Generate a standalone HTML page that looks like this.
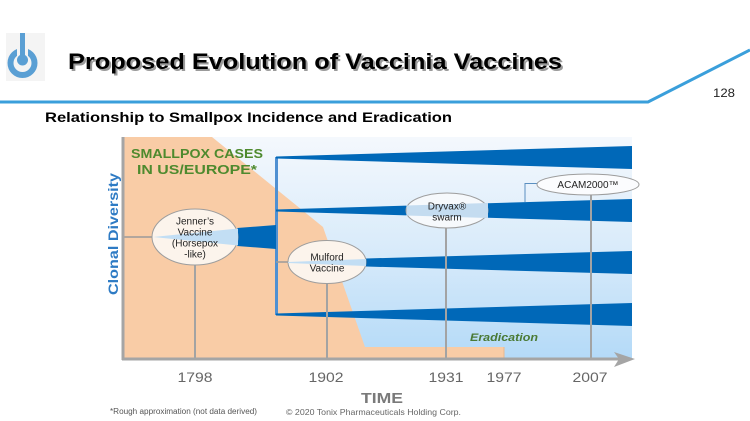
<!DOCTYPE html>
<html><head><meta charset="utf-8"><style>
html,body{margin:0;padding:0;background:#fff;}
svg{display:block;font-family:"Liberation Sans",sans-serif;}
</style></head><body>
<svg width="750" height="421" viewBox="0 0 750 421" xmlns="http://www.w3.org/2000/svg">
<defs>
<linearGradient id="bg" x1="0" y1="0" x2="0" y2="1">
<stop offset="0" stop-color="#f4f8fd"/>
<stop offset="0.5" stop-color="#d9ebfa"/>
<stop offset="1" stop-color="#b4daf8"/>
</linearGradient>
</defs>
<rect width="750" height="421" fill="#fff"/>
<!-- header -->
<rect x="6" y="33" width="39" height="48" fill="#f4f4f4"/>
<circle cx="22.5" cy="63" r="12" fill="none" stroke="#5a9fd4" stroke-width="6"/>
<rect x="17" y="44" width="11" height="12" fill="#f4f4f4"/>
<rect x="20" y="33" width="5" height="27" fill="#5a9fd4"/>
<circle cx="22.5" cy="60" r="5.5" fill="#5a9fd4"/>
<text x="70" y="71" font-size="22" font-weight="bold" fill="#9a9a9a" textLength="494" lengthAdjust="spacingAndGlyphs">Proposed Evolution of Vaccinia Vaccines</text>
<text x="68" y="69" font-size="22" font-weight="bold" fill="#000" textLength="494" lengthAdjust="spacingAndGlyphs">Proposed Evolution of Vaccinia Vaccines</text>
<polyline points="0,102 648,102 750,50" fill="none" stroke="#3a9fdb" stroke-width="3"/>
<text x="713" y="97" font-size="12" fill="#222" textLength="22" lengthAdjust="spacingAndGlyphs">128</text>
<text x="45" y="122" font-size="13.5" font-weight="bold" fill="#000" textLength="407" lengthAdjust="spacingAndGlyphs">Relationship to Smallpox Incidence and Eradication</text>

<!-- chart background -->
<rect x="123" y="137" width="509" height="221" fill="url(#bg)"/>
<polygon points="123,137 212,137 323,227 365,347 504,347 504,358 123,358" fill="#f9cca6"/>
<line x1="504" y1="347" x2="504" y2="358" stroke="#e8b890" stroke-width="1"/>

<!-- trunk -->
<rect x="275" y="157" width="3" height="158" fill="#4f90d2"/>

<!-- wedges -->
<polygon points="276,156.5 632,146 632,169 276,158.5" fill="#0068b8"/>
<polygon points="276,209.5 632,199 632,222 276,211.5" fill="#0068b8"/>
<polygon points="366,258.5 632,251 632,274 366,266.5" fill="#0068b8"/>
<polygon points="276,313.5 632,303 632,326 276,315.5" fill="#0068b8"/>

<!-- Jenner -->
<line x1="123" y1="237" x2="153" y2="237" stroke="#9a9a9a" stroke-width="1.5"/>
<polygon points="237,228 276,225 276,249 237,246" fill="#0068b8"/>
<line x1="195" y1="265" x2="195" y2="358" stroke="#a3a3a3" stroke-width="2"/>
<ellipse cx="195" cy="237" rx="43" ry="28" fill="#fcf4ec" stroke="#9d9d9d" stroke-width="1"/>
<polygon points="153,237 238,228.5 238,245.5" fill="#c2def4"/>
<g font-size="10" fill="#222" text-anchor="middle">
<text x="195" y="224.5">Jenner’s</text>
<text x="195" y="235.5">Vaccine</text>
<text x="195" y="246.5">(Horsepox</text>
<text x="195" y="257.5">-like)</text>
</g>

<!-- Mulford -->
<line x1="276" y1="262" x2="289" y2="262" stroke="#9a9a9a" stroke-width="1.5"/>
<line x1="327" y1="284" x2="327" y2="358" stroke="#a3a3a3" stroke-width="2"/>
<ellipse cx="327" cy="262" rx="39" ry="21.5" fill="#fcf4ec" stroke="#9d9d9d" stroke-width="1"/>
<polygon points="288,262 366,259 366,266 288,263" fill="#c2def4"/>
<g font-size="10" fill="#222" text-anchor="middle">
<text x="327" y="260.5">Mulford</text>
<text x="327" y="271.5">Vaccine</text>
</g>

<!-- Dryvax -->
<line x1="446" y1="228" x2="446" y2="358" stroke="#a3a3a3" stroke-width="2"/>
<ellipse cx="447" cy="210.5" rx="41" ry="17.5" fill="#f6f9fc" stroke="#9d9d9d" stroke-width="1"/>
<polygon points="406.5,205.5 488,203 488,218 406.5,215.5" fill="#c4dcf0"/>
<g font-size="10" fill="#222" text-anchor="middle">
<text x="447" y="209.5">Dryvax®</text>
<text x="447" y="220.5">swarm</text>
</g>

<!-- ACAM2000 -->
<polyline points="525,202 525,183.5 537,183.5" fill="none" stroke="#5a8fc0" stroke-width="1"/>
<line x1="591" y1="195" x2="591" y2="358" stroke="#a3a3a3" stroke-width="2"/>
<ellipse cx="588" cy="184.5" rx="51" ry="10.5" fill="#fbfcfe" stroke="#9d9d9d" stroke-width="1"/>
<text x="588" y="188" font-size="10" fill="#222" text-anchor="middle">ACAM2000™</text>

<!-- axes -->
<line x1="123" y1="137" x2="123" y2="360" stroke="#a5a5a5" stroke-width="3"/>
<line x1="122" y1="359" x2="622" y2="359" stroke="#a5a5a5" stroke-width="3"/>
<polygon points="614,352 635,359 614,367 619,359" fill="#a5a5a5"/>

<!-- labels -->
<text x="197" y="158" font-size="13" font-weight="bold" fill="#4e8a2e" text-anchor="middle" textLength="132" lengthAdjust="spacingAndGlyphs">SMALLPOX CASES</text>
<text x="197" y="174" font-size="13" font-weight="bold" fill="#4e8a2e" text-anchor="middle" textLength="120" lengthAdjust="spacingAndGlyphs">IN US/EUROPE*</text>
<text x="504" y="341" font-size="11" font-weight="bold" font-style="italic" fill="#4a7a35" text-anchor="middle" textLength="68" lengthAdjust="spacingAndGlyphs">Eradication</text>
<text transform="translate(118,234) rotate(-90)" font-size="14" font-weight="bold" fill="#2e7bc4" text-anchor="middle" textLength="122" lengthAdjust="spacingAndGlyphs">Clonal Diversity</text>

<g font-size="14" fill="#666" text-anchor="middle">
<text x="195" y="382" textLength="35" lengthAdjust="spacingAndGlyphs">1798</text>
<text x="326" y="382" textLength="35" lengthAdjust="spacingAndGlyphs">1902</text>
<text x="446" y="382" textLength="35" lengthAdjust="spacingAndGlyphs">1931</text>
<text x="504" y="382" textLength="35" lengthAdjust="spacingAndGlyphs">1977</text>
<text x="590" y="382" textLength="35" lengthAdjust="spacingAndGlyphs">2007</text>
</g>
<text x="382" y="403" font-size="15" font-weight="bold" fill="#7a7a7a" text-anchor="middle" textLength="42" lengthAdjust="spacingAndGlyphs">TIME</text>
<text x="110" y="414" font-size="8" fill="#555" textLength="147" lengthAdjust="spacingAndGlyphs">*Rough approximation (not data derived)</text>
<text x="286" y="415" font-size="8.5" fill="#666" textLength="175" lengthAdjust="spacingAndGlyphs">© 2020 Tonix Pharmaceuticals Holding Corp.</text>
</svg>
</body></html>
